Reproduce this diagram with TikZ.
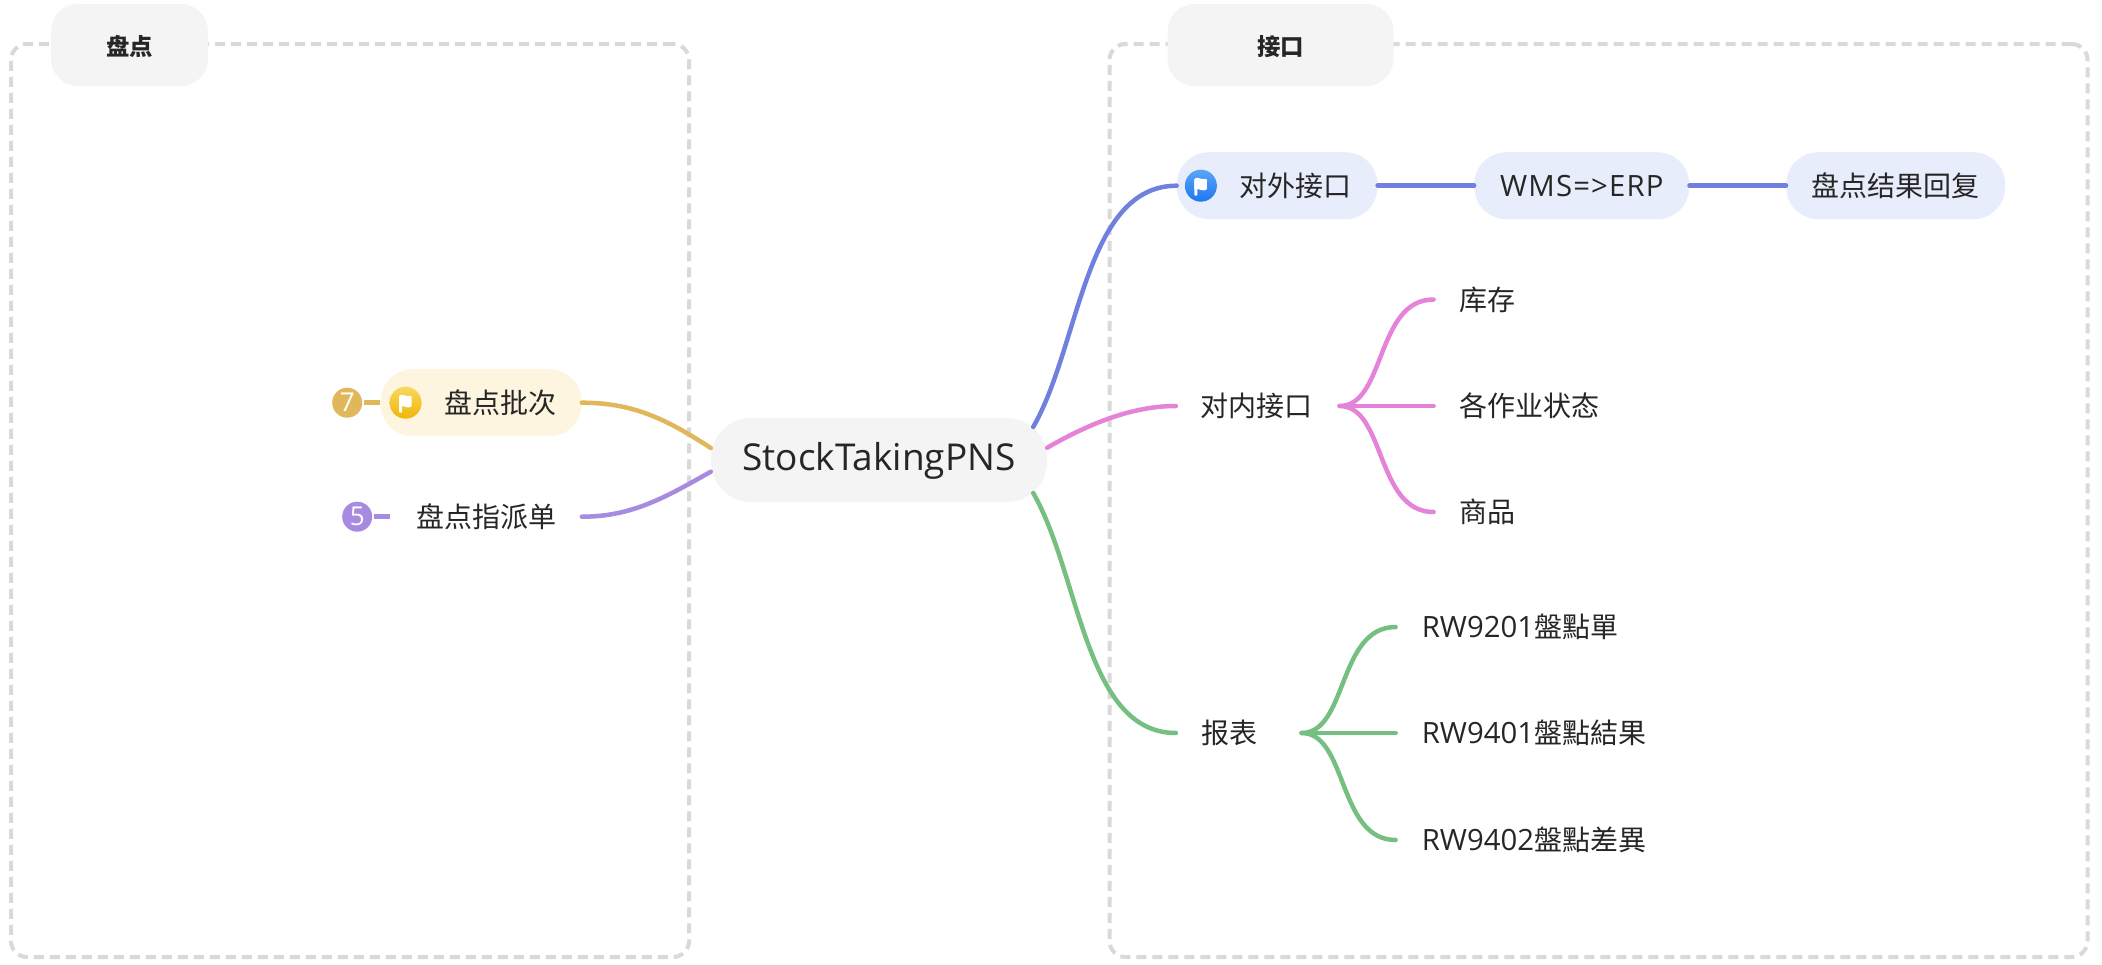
\documentclass[tikz,border=0pt]{standalone}
\usepackage{fontspec}
\setmainfont{Open Sans}
\newfontfamily\cjk{Noto Sans CJK SC}
\newcommand{\latn}[1]{{\fontspec{Open Sans}\fontsize{29.3}{30}\selectfont #1}}
\usetikzlibrary{
	positioning,
}
\definecolor{boxgray}{HTML}{F4F4F4}
\definecolor{framegray}{HTML}{D9D9D9}
\definecolor{inkgray}{HTML}{262626}
\definecolor{amberfill}{HTML}{FDF5E0}
\definecolor{amberline}{HTML}{E1B75C}
\definecolor{ambertop}{HTML}{F8D860}
\definecolor{amberlow}{HTML}{EFB608}
\definecolor{violetline}{HTML}{A68BE0}
\definecolor{bluefill}{HTML}{E8EDFB}
\definecolor{blueline}{HTML}{6F81DC}
\definecolor{bluetop}{HTML}{5AA6F7}
\definecolor{bluelow}{HTML}{1C78F0}
\definecolor{pinkline}{HTML}{E583D9}
\definecolor{greenline}{HTML}{75BF80}

\begin{document}
\begin{tikzpicture}[
	x=1pt,y=1pt,
	text=inkgray,
	every node/.style={inner sep=0pt,font=\fontsize{28}{30}\selectfont\cjk,
		text height=25pt,text depth=4pt},
	frame/.style={draw=framegray,line width=4pt,dash pattern=on 10pt off 6pt,rounded corners=16pt},
	title/.style={fill=boxgray,rounded corners=27pt,minimum height=82pt,
		font=\fontsize{23.4}{25}\selectfont\cjk\bfseries},
	topic/.style={rounded corners=32pt,minimum height=67pt},
	plain/.style={minimum height=67pt},
	leaf/.style={inner xsep=26pt,minimum height=50pt},
	badge/.style={circle,minimum size=30pt,text=white,text height=,text depth=,
		font=\fontsize{26}{28}\selectfont},
	flagdot/.style={circle,minimum size=32pt},
	flagglyph/.pic={
		\fill[white,rounded corners=1pt] (-6.5,-10) rectangle (-3.5,7);
		\fill[white,rounded corners=1pt] (-6.5,7) .. controls (-3,9) and (1,5.5) .. (6,7)
			-- (6,-4) .. controls (1,-6) and (-3,-2) .. (-6.5,-4) -- cycle;
	},
	link/.style={line width=4.5pt,line cap=round},
	]

	%% frames and their titles
	\useasboundingbox (0,0) rectangle (2102,-964);
	\node (frameL) [frame,minimum width=678pt,minimum height=913pt] at (350,-500.5) {};
	\node (frameR) [frame,minimum width=978pt,minimum height=913pt] at (1598.5,-500.5) {};
	\node (titleL) [title,minimum width=157pt] at (129.5,-45) {盘点};
	\node (titleR) [title,minimum width=226pt] at (1280.5,-45) {接口};

	%% centre
	\node (root) [fill=boxgray,rounded corners=40pt,minimum width=336pt,minimum height=84pt,
		font=\fontsize{37}{40}\selectfont] at (879,-460) {StockTakingPNS};
	\coordinate (rootNE) at ([xshift=-14pt,yshift=33pt]root.east);
	\coordinate (rootSE) at ([xshift=-14pt,yshift=-33pt]root.east);

	%% left side
	\node (batch) [topic,fill=amberfill,minimum width=201pt,left=129pt of root,yshift=57.3pt]
		{\hspace*{38.4pt}盘点批次};
	\node (assign) [plain,minimum width=191pt,left=129pt of root,yshift=-56.7pt] {盘点指派单};
	\node (count7) [badge,fill=amberline,left=18pt of batch] {7};
	\node (count5) [badge,fill=violetline,left=18pt of assign] {5};
	\node (flagY) [flagdot,top color=ambertop,bottom color=amberlow,
		right=9pt of batch.west] {};

	%% line 1, right side
	\node (extern) [topic,fill=bluefill,minimum width=200.5pt,right=129.5pt of root,yshift=274.3pt]
		{\hspace*{36pt}对外接口};
	\node (wms) [topic,fill=bluefill,minimum width=215pt,right=96.5pt of extern]
		{\latn{\addfontfeature{LetterSpace=4}WMS=>ERP}};
	\node (result) [topic,fill=bluefill,minimum width=219pt,right=96.5pt of wms] {盘点结果回复};
	\node (flagB) [flagdot,top color=bluetop,bottom color=bluelow,
		right=8pt of extern.west] {};

	%% line 2
	\node (inlet) [plain,minimum width=163.3pt,right=128.7pt of root,yshift=54pt] {对内接口\hspace*{3pt}};
	\node (stock) [leaf,right=94pt of inlet,yshift=106.5pt] {库存};
	\node (state) [leaf,right=94pt of inlet] {各作业状态};
	\node (goods) [leaf,right=94pt of inlet,yshift=-106pt] {商品};

	%% line 3
	\node (report) [plain,minimum width=125.3pt,right=128.7pt of root,yshift=-273pt]
		{报表\hspace*{18.6pt}};
	\node (rw1) [leaf,right=94pt of report,yshift=106pt] {\latn{RW9201}盤點單};
	\node (rw2) [leaf,right=94pt of report] {\latn{RW9401}盤點結果};
	\node (rw3) [leaf,right=94pt of report,yshift=-107pt] {\latn{RW9402}盤點差異};

	%% flags on the two dots
	\pic at (flagY) {flagglyph};
	\pic at (flagB) {flagglyph};

	%% from the centre, to the left
	\draw[link,amberline] (batch.east) .. controls +(50pt,0pt) and +(-46pt,30pt) .. ([yshift=12pt]root.west);
	\draw[link,violetline] (assign.east) .. controls +(50pt,0pt) and +(-46pt,-26pt) .. ([yshift=-11.7pt]root.west);
	\draw[link,amberline,line cap=butt,shorten <=2pt] (count7) -- (batch);
	\draw[link,violetline,line cap=butt,shorten <=2pt] (count5) -- (assign);

	%% from the centre, to the right
	\draw[link,blueline] (rootNE) .. controls +(47pt,82pt) and +(-92pt,0pt) .. (extern.west);
	\draw[link,blueline] (extern) -- (wms);
	\draw[link,blueline] (wms) -- (result);
	\draw[link,pinkline] ([yshift=12.3pt]root.east) .. controls +(40pt,23pt) and +(-45pt,0pt) .. (inlet.west);
	\draw[link,greenline] (rootSE) .. controls +(47pt,-82pt) and +(-91pt,0pt) .. (report.west);

	%% second level
	\draw[link,pinkline] (inlet.east) .. controls +(46pt,0pt) and +(-58pt,0pt) .. (stock.west);
	\draw[link,pinkline] (inlet.east) -- (state.west);
	\draw[link,pinkline] (inlet.east) .. controls +(46pt,0pt) and +(-58pt,0pt) .. (goods.west);
	\draw[link,greenline] (report.east) .. controls +(46pt,0pt) and +(-58pt,0pt) .. (rw1.west);
	\draw[link,greenline] (report.east) -- (rw2.west);
	\draw[link,greenline] (report.east) .. controls +(46pt,0pt) and +(-58pt,0pt) .. (rw3.west);

\end{tikzpicture}
\end{document}
